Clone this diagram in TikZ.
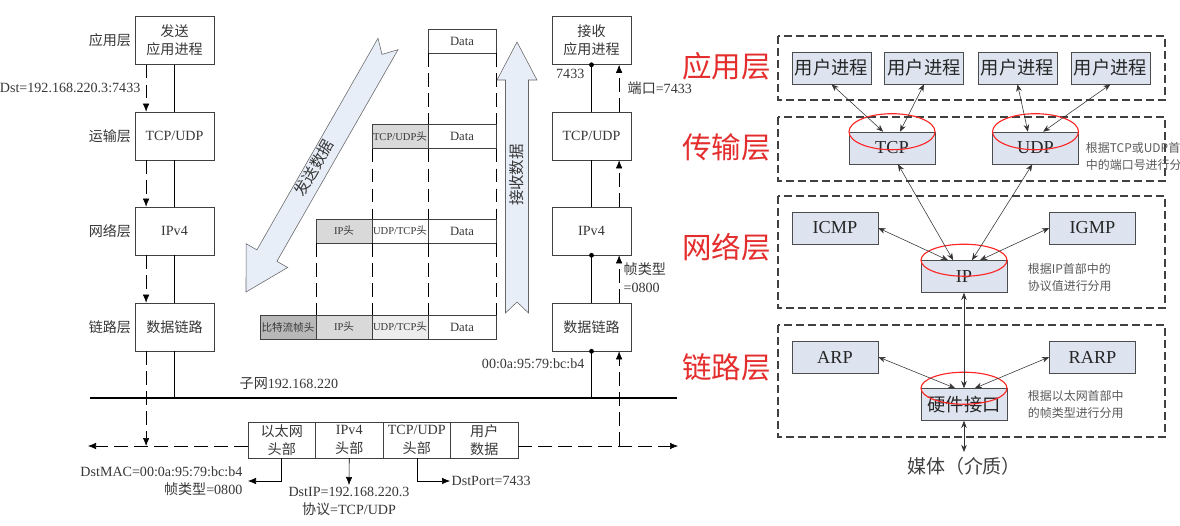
\documentclass[tikz,border=0pt]{standalone}
\usepackage{fontspec}
\setmainfont{Liberation Serif}
\newfontfamily\zh{Noto Sans CJK SC}
\usetikzlibrary{positioning,arrows.meta}

\definecolor{boxfill}{RGB}{221,228,240}
\definecolor{arrfill}{RGB}{232,238,248}
\definecolor{layerred}{RGB}{228,45,45}
\definecolor{txt}{RGB}{55,55,55}

\begin{document}
\begin{tikzpicture}[
    x=0.025cm, y=-0.025cm,
    cn/.style={font=\zh\fontsize{10}{13}\selectfont},
    stack/.style={draw=black!75, minimum width=1.975cm, minimum height=1.2cm, align=center, text=txt, font=\fontsize{10}{13}\selectfont},
    lbl/.style={text=txt, inner sep=1pt, font=\fontsize{10}{12}\selectfont},
    cell/.style={draw=black!75, minimum width=1.4cm, minimum height=0.6cm, inner sep=0pt, outer sep=0pt, text=txt, font=\fontsize{7.5}{9}\selectfont},
    fcell/.style={draw=black!75, minimum width=1.6875cm, minimum height=0.9cm, inner sep=0pt, outer sep=0pt, align=center, text=txt, font=\fontsize{10}{13.5}\selectfont},
    proto/.style={draw=black!70, fill=boxfill, minimum width=2.15cm, minimum height=0.8cm, inner sep=1pt, text=black!85, font=\fontsize{13}{15}\selectfont},
    protocn/.style={proto, minimum width=1.975cm, font=\zh\fontsize{13}{15}\selectfont},
    layerbox/.style={draw=black!75, line width=1.3pt, dash pattern=on 2mm off 1mm},
    layername/.style={text=layerred, anchor=east, font=\zh\fontsize{21}{24}\selectfont},
    note/.style={text=black!65, align=left, anchor=north west, font=\zh\fontsize{8.5}{12.5}\selectfont},
    ring/.style={draw=red!85, line width=0.8pt},
    dline/.style={dash pattern=on 3.4mm off 1.6mm},
    arr/.style={-{Latex[length=2mm,width=1.6mm]}},
    dbl/.style={<->, >={Stealth[length=1.8mm,width=1.4mm]}, black!80},
    blockarr/.style={draw=black!60, fill=arrfill}
]
\useasboundingbox (0,0) rectangle (1180,526);
\clip (0,0) rectangle (1180,526);

% Sending host, top to bottom
\node[stack, cn] (s1) at (174.5,40.5) {发送\\应用进程};
\node[stack] (s2) at (174.5,136) {TCP/UDP};
\node[stack] (s3) at (174.5,231) {IPv4};
\node[stack, cn] (s4) at (174.5,327) {数据链路};
\node[lbl, cn, left=0.05cm of s1] (l1) {应用层};
\node[lbl, cn, left=0.05cm of s2] (l2) {运输层};
\node[lbl, cn, left=0.05cm of s3] (l3) {网络层};
\node[lbl, cn, left=0.05cm of s4] (l4) {链路层};
\node[lbl, anchor=east] (dst) at (142,88) {Dst=192.168.220.3:7433};

% Receiving host
\node[stack, cn] (r1) at (591.5,40.5) {接收\\应用进程};
\node[stack] (r2) at (591.5,136) {TCP/UDP};
\node[stack] (r3) at (591.5,231) {IPv4};
\node[stack, cn] (r4) at (591.5,327) {数据链路};
\node[lbl, anchor=east] (port) at (586,74) {7433};
\node[lbl, anchor=west] (portno) at (626,88) {{\zh 端口}=7433};
\node[lbl, anchor=north west, align=left, font=\fontsize{10}{12.5}\selectfont] (ftype) at (622,261) {{\zh 帧类型}\\=0800};
\node[lbl, anchor=east] (mac) at (586,364) {00:0a:95:79:bc:b4};

% Subnet bus
\coordinate (busL) at (90,398);
\coordinate (busR) at (677,398);
\draw[line width=1.6pt] (busL) -- (busR);
\node[lbl, anchor=west] (subnet) at (238,384) {{\zh 子网}192.168.220};

% Frame on the wire
\node[fcell, cn] (f1) at (281.75,440) {以太网\\头部};
\node[fcell, right=0cm of f1] (f2) {IPv4\\{\zh 头部}};
\node[fcell, right=0cm of f2] (f3) {TCP/UDP\\{\zh 头部}};
\node[fcell, cn, right=0cm of f3] (f4) {用户\\数据};
\node[lbl, anchor=east, align=right, font=\fontsize{10}{12.5}\selectfont] (dstmac) at (244,481) {DstMAC=00:0a:95:79:bc:b4\\{\zh 帧类型}=0800};
\node[lbl, anchor=north, align=center, font=\fontsize{10}{13}\selectfont] (dstip) at (349,485) {DstIP=192.168.220.3\\{\zh 协议}=TCP/UDP};
\node[lbl, anchor=west] (dstport) at (450,481) {DstPort=7433};
\draw[arr] (f1.south) |- ([xshift=0.1cm]dstmac.east);
\draw[arr] (f2.south) -- (dstip.north);
\draw[arr] (f3.south) |- (dstport.west);

% Sender solid path and dashed data flow
\draw (s1) -- (s2);
\draw (s2) -- (s3);
\draw (s3) -- (s4);
\draw (s4.south) -- (s4.south |- busL);
\coordinate (lend) at (88,446);
\coordinate (rend) at (678,446);
\draw[dline, arr] ([xshift=-0.71cm]s1.south) -- ([xshift=-0.71cm]s2.north);
\draw[dline, arr] ([xshift=-0.71cm]s2.south) -- ([xshift=-0.71cm]s3.north);
\draw[dline, arr] ([xshift=-0.71cm]s3.south) -- ([xshift=-0.71cm]s4.north);
\draw[dline, arr] ([xshift=-0.71cm]s4.south) -- ([xshift=-0.71cm]s4.south |- lend);
\draw[dline, arr] (f1.west |- lend) -- (lend);
\draw[dline, arr] (f4.east |- rend) -- (rend);

% Receiver solid path and dashed data flow
\draw (r1) -- (r2);
\draw (r2) -- (r3);
\draw (r3) -- (r4);
\draw (r4.south) -- (r4.south |- busL);
\fill (r1.south) circle (0.06cm);
\fill (r3.south) circle (0.06cm);
\fill (r4.south) circle (0.06cm);
\draw[dline, arr] ([xshift=0.69cm]r4.south |- rend) -- ([xshift=0.69cm]r4.south);
\draw[dline, arr] ([xshift=0.69cm]r4.north) -- ([xshift=0.69cm]r3.south);
\draw[dline, arr] ([xshift=0.69cm]r3.north) -- ([xshift=0.69cm]r2.south);
\draw[dline, arr] ([xshift=0.69cm]r2.north) -- ([xshift=0.69cm]r1.south);

% Encapsulation rows
\node[cell, minimum width=1.7cm, font=\fontsize{9}{10}\selectfont] (d1) at (462,41) {Data};
\node[cell, minimum width=1.7cm, font=\fontsize{9}{10}\selectfont] (d2) at (462,136.5) {Data};
\node[cell, fill=black!15, left=0cm of d2] (h2) {TCP/UDP{\zh 头}};
\node[cell, minimum width=1.7cm, font=\fontsize{9}{10}\selectfont] (d3) at (462,231) {Data};
\node[cell, left=0cm of d3] (u3) {UDP/TCP{\zh 头}};
\node[cell, fill=black!15, left=0cm of u3] (i3) {IP{\zh 头}};
\node[cell, minimum width=1.7cm, font=\fontsize{9}{10}\selectfont] (d4) at (462,327) {Data};
\node[cell, fill=black!7, left=0cm of d4] (u4) {UDP/TCP{\zh 头}};
\node[cell, fill=black!15, left=0cm of u4] (i4) {IP{\zh 头}};
\node[cell, fill=black!28, left=0cm of i4, font=\zh\fontsize{7.5}{9}\selectfont] (b4) {比特流帧头};
\draw[dline] (d1.south west) -- (d2.north west);
\draw[dline] (d1.south east) -- (d2.north east);
\draw[dline] (h2.south west) -- (u3.north west);
\draw[dline] (d2.south west) -- (d3.north west);
\draw[dline] (d2.south east) -- (d3.north east);
\draw[dline] (i3.south west) -- (i4.north west);
\draw[dline] (u3.south west) -- (u4.north west);
\draw[dline] (d3.south west) -- (d4.north west);
\draw[dline] (d3.south east) -- (d4.north east);

% Big send / receive arrows
\draw[blockarr] (398,49.7) -- (276.9,261.3) -- (287.7,267.5) -- (246,292) -- (246.1,243.7) -- (256.9,249.9) -- (378,38.3) -- (382,54.4) -- cycle;
\node[rotate=60.2, text=txt, font=\zh\fontsize{11}{13}\selectfont] (send) at (314,168) {发送数据};
\draw[blockarr] (517,42) -- (537,80) -- (528.5,80) -- (528.5,313) -- (517,302) -- (505.5,313) -- (505.5,80) -- (497,80) -- cycle;
\node[rotate=90, text=txt, font=\zh\fontsize{11}{13}\selectfont] (recv) at (517,175) {接收数据};

% Right: layer frames
\draw[layerbox] (778,36) rectangle (1165,100);
\draw[layerbox] (778,117) rectangle (1165,181);
\draw[layerbox] (778,196) rectangle (1165,308);
\draw[layerbox] (778,325) rectangle (1165,437);
\node[layername] (n1) at (776,66) {应用层};
\node[layername] (n2) at (776,147) {传输层};
\node[layername] (n3) at (776,247) {网络层};
\node[layername] (n4) at (776,367) {链路层};

% Protocol boxes
\node[protocn] (p1) at (831.5,68) {用户进程};
\node[protocn] (p2) at (924,68) {用户进程};
\node[protocn] (p3) at (1017.5,68) {用户进程};
\node[protocn] (p4) at (1110.5,68) {用户进程};
\node[proto] (tcp) at (892,148) {TCP};
\node[proto] (udp) at (1035.5,148) {UDP};
\node[proto] (icmp) at (835,228) {ICMP};
\node[proto] (igmp) at (1092.5,228) {IGMP};
\node[proto] (ip) at (964,276.5) {IP};
\node[proto] (arp) at (835,357) {ARP};
\node[proto] (rarp) at (1092.5,357) {RARP};
\node[protocn, minimum width=2.15cm] (hw) at (964,404.5) {硬件接口};
\draw[ring] (tcp.north) ellipse (1.075cm and 0.45cm);
\draw[ring] (udp.north) ellipse (1.075cm and 0.45cm);
\draw[ring] (ip.north) ellipse (1.075cm and 0.4cm);
\draw[ring] (hw.north) ellipse (1.075cm and 0.4cm);
\node[note] (tcpnote) at (1081,137) {根据TCP或UDP首部\\中的端口号进行分用};
\node[note] (ipnote) at (1023,258) {根据IP首部中的\\协议值进行分用};
\node[note] (hwnote) at (1023,385) {根据以太网首部中\\的帧类型进行分用};
\node[anchor=north, text=black!75, font=\zh\fontsize{13.5}{15}\selectfont] (media) at (964,452) {媒体（介质）};

% Demultiplexing arrows
\draw[dbl] (p1.south) -- ([xshift=-0.22cm]tcp.north);
\draw[dbl] (p2.south) -- ([xshift=0.2cm]tcp.north);
\draw[dbl] (p3.south) -- ([xshift=-0.19cm]udp.north);
\draw[dbl] (p4.south) -- ([xshift=0.19cm]udp.north);
\draw[dbl] ([xshift=0.15cm]tcp.south) -- ([xshift=-0.27cm]ip.north);
\draw[dbl] ([xshift=-0.08cm]udp.south) -- ([xshift=0.2cm]ip.north);
\draw[dbl] (icmp.east) -- ([xshift=-0.4cm]ip.north);
\draw[dbl] (igmp.west) -- ([xshift=0.4cm]ip.north);
\draw[dbl] (ip.south) -- (hw.north);
\draw[dbl] (arp.east) -- ([xshift=-0.22cm]hw.north);
\draw[dbl] (rarp.west) -- ([xshift=0.27cm]hw.north);
\draw[dbl] (hw.south) -- (media.north);
\end{tikzpicture}
\end{document}
